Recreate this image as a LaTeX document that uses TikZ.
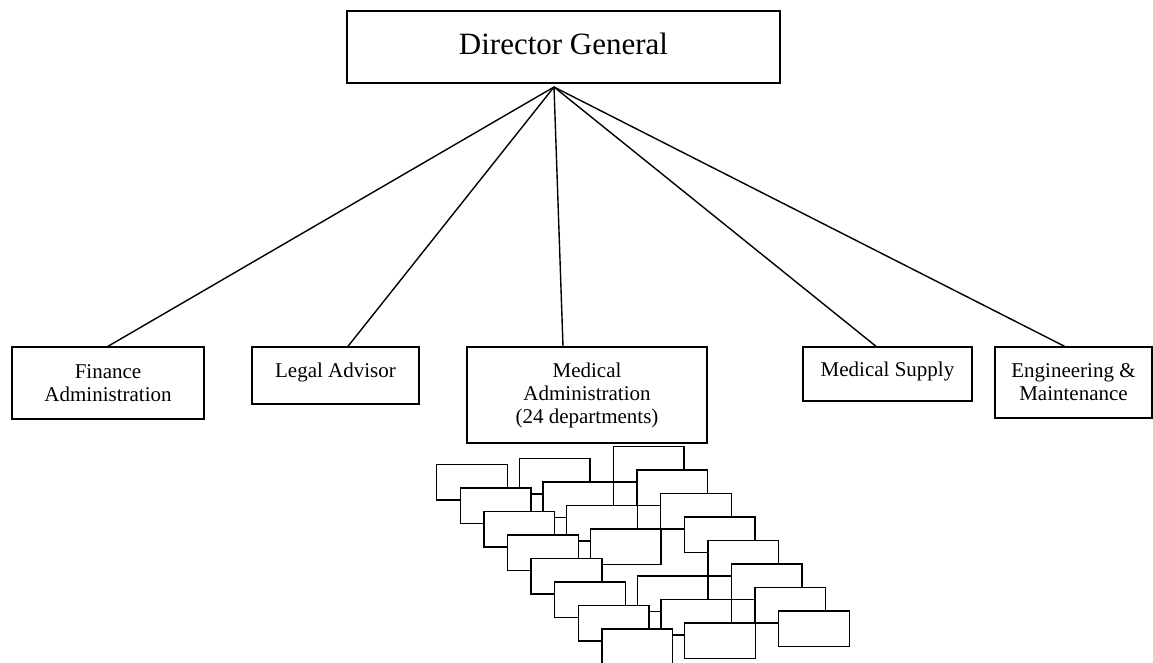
\documentclass[tikz,border=0pt]{standalone}
\usepackage{fontspec}
\setmainfont{Liberation Serif}
\begin{document}
\begin{tikzpicture}[x=1pt,y=-1pt,
  box/.style={draw,line width=1.4pt,inner sep=0pt,align=center,
    font=\fontsize{21}{23}\selectfont},
  dept/.style={draw,fill=white,line width=1.4pt,inner sep=0pt,anchor=north west,
    minimum width=70.7pt,minimum height=35.5pt},
  link/.style={line width=1.4pt}]
\useasboundingbox (0,0) rectangle (1153,663);
% top
\node[box,font=\fontsize{31}{36}\selectfont,minimum width=433pt,text height=44pt,text depth=28pt] (dg) at (563.5,47) {Director General};
\coordinate (hub) at (554,87);
% second level
\node[box,minimum width=192pt,minimum height=72pt] (fin) at (108,383) {Finance\\Administration};
\node[box,minimum width=167pt,text height=30pt,text depth=27pt] (legal) at (335.5,375.5) {Legal Advisor};
\node[box,minimum width=240pt,minimum height=96pt] (med) at (587,395) {Medical\\Administration\\(24 departments)};
\node[box,minimum width=169pt,text height=29pt,text depth=25pt] (sup) at (887.5,374) {Medical Supply};
\node[box,minimum width=157pt,minimum height=71pt] (eng) at (1073.5,382.5) {Engineering \&\\Maintenance};
% connectors
\draw[link] (hub) -- (fin.north);
\draw[link] (hub) -- ([xshift=12.5pt]legal.north);
\draw[link] (hub) -- ([xshift=-24pt]med.north);
\draw[link] (hub) -- ([xshift=-11.5pt]sup.north);
\draw[link] (hub) -- ([xshift=-9pt]eng.north);
% departments
\foreach \k in {1,...,8}{
  \pgfmathsetmacro{\dx}{23.6*(\k-1)}
  \pgfmathsetmacro{\dy}{23.5*(\k-1)}
  \node[dept] (c3-\k) at (612.7+\dx,445.7+\dy) {};
  \ifnum\k=5\relax\else
  \node[dept] (c2-\k) at (518.7+\dx,457.7+\dy) {};
  \fi
  \node[dept] (c1-\k) at (436+\dx,463.7+\dy) {};
}
\end{tikzpicture}
\end{document}
